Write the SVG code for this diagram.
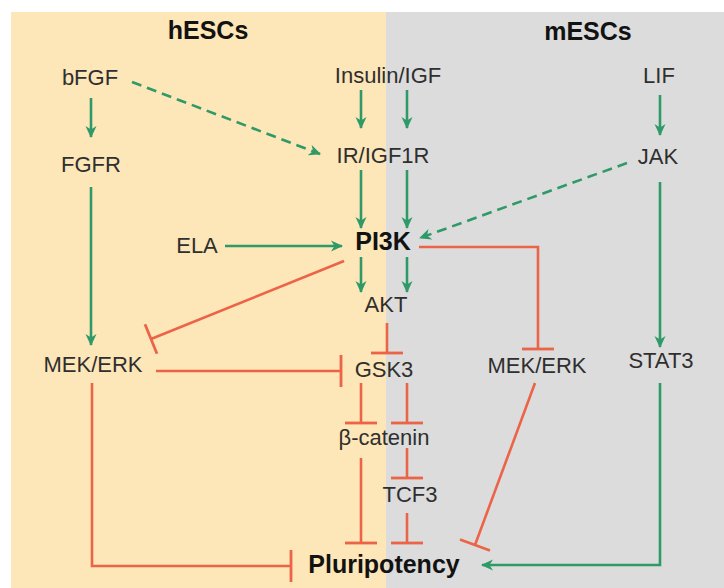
<svg xmlns="http://www.w3.org/2000/svg" width="724" height="588" viewBox="0 0 724 588">
<style>
text{font-family:"Liberation Sans",Arial,sans-serif;font-size:22px;fill:#2f2f2f;text-anchor:middle}
text.b{font-weight:bold;font-size:25px;fill:#121212}
.g{stroke:#2f9a68;stroke-width:2.6;fill:none}
.gd{stroke:#2f9a68;stroke-width:2.6;fill:none;stroke-dasharray:10 6}
.r{stroke:#ec6448;stroke-width:2.6;fill:none}
</style>
<defs>
<marker id="ah" markerUnits="userSpaceOnUse" viewBox="0 0 12 12" markerWidth="12" markerHeight="12" refX="11" refY="6" orient="auto">
<path d="M0,0.5 L12,6 L0,11.5 L3.5,6 z" fill="#2f9a68"/>
</marker>
<marker id="tb" markerUnits="userSpaceOnUse" viewBox="-2 -17 4 34" markerWidth="4" markerHeight="34" refX="0" refY="0" orient="auto">
<path d="M0,-16 V16" stroke="#ec6448" stroke-width="2.8"/>
</marker>
</defs>
<rect x="11" y="12" width="375" height="576" fill="#fde6b7"/>
<rect x="386" y="12" width="338" height="576" fill="#dcdcdc"/>
<g id="headers">
<text class="b" x="208" y="39">hESCs</text>
<text class="b" x="588" y="40">mESCs</text>
</g>
<g id="bFGF"><text x="90" y="85">bFGF</text></g>
<g id="InsulinIGF"><text x="388" y="83">Insulin/IGF</text></g>
<g id="LIF"><text x="659" y="83">LIF</text></g>
<g id="FGFR"><text x="91" y="172">FGFR</text></g>
<g id="IRIGF1R"><text x="383" y="163">IR/IGF1R</text></g>
<g id="JAK"><text x="658" y="164">JAK</text></g>
<g id="ELA"><text x="197" y="253">ELA</text></g>
<g id="PI3K"><text class="b" x="383" y="250">PI3K</text></g>
<g id="AKT"><text x="386" y="312">AKT</text></g>
<g id="MEKERK-h"><text x="93" y="372">MEK/ERK</text></g>
<g id="GSK3"><text x="384" y="377">GSK3</text></g>
<g id="MEKERK-m"><text x="537" y="373">MEK/ERK</text></g>
<g id="STAT3"><text x="661" y="368">STAT3</text></g>
<g id="bcatenin"><text x="384" y="445">β-catenin</text></g>
<g id="TCF3"><text x="410" y="502">TCF3</text></g>
<g id="Pluripotency"><text class="b" x="384" y="573">Pluripotency</text></g>
<g id="connectors">
<line class="g" x1="91" y1="98" x2="91" y2="137" marker-end="url(#ah)"/>
<line class="gd" x1="132" y1="82" x2="320" y2="154" marker-end="url(#ah)"/>
<line class="g" x1="361" y1="90" x2="361" y2="128" marker-end="url(#ah)"/>
<line class="g" x1="407" y1="90" x2="407" y2="128" marker-end="url(#ah)"/>
<line class="g" x1="660" y1="95" x2="660" y2="135" marker-end="url(#ah)"/>
<line class="g" x1="91" y1="187" x2="91" y2="345" marker-end="url(#ah)"/>
<line class="g" x1="361" y1="170" x2="361" y2="228" marker-end="url(#ah)"/>
<line class="g" x1="407" y1="170" x2="407" y2="228" marker-end="url(#ah)"/>
<line class="gd" x1="627" y1="163" x2="420" y2="238" marker-end="url(#ah)"/>
<line class="g" x1="225" y1="246" x2="342" y2="246" marker-end="url(#ah)"/>
<line class="g" x1="361" y1="257" x2="361" y2="292" marker-end="url(#ah)"/>
<line class="g" x1="407" y1="257" x2="407" y2="292" marker-end="url(#ah)"/>
<line class="g" x1="660" y1="182" x2="660" y2="347" marker-end="url(#ah)"/>
<path class="g" d="M660,383 V565 H482" marker-end="url(#ah)"/>
<line class="r" x1="344" y1="261" x2="151" y2="339" marker-end="url(#tb)"/>
<path class="r" d="M419,247 H538 V349" marker-end="url(#tb)"/>
<line class="r" x1="387" y1="323" x2="387" y2="353" marker-end="url(#tb)"/>
<line class="r" x1="156" y1="371" x2="341" y2="371" marker-end="url(#tb)"/>
<line class="r" x1="361" y1="383" x2="361" y2="423" marker-end="url(#tb)"/>
<line class="r" x1="407" y1="383" x2="407" y2="423" marker-end="url(#tb)"/>
<line class="r" x1="361" y1="458" x2="361" y2="543" marker-end="url(#tb)"/>
<line class="r" x1="407" y1="448" x2="407" y2="478" marker-end="url(#tb)"/>
<line class="r" x1="407" y1="513" x2="407" y2="543" marker-end="url(#tb)"/>
<line class="r" x1="535" y1="383" x2="475" y2="545" marker-end="url(#tb)"/>
<path class="r" d="M92,383 V566 H291" marker-end="url(#tb)"/>
</g>
</svg>
